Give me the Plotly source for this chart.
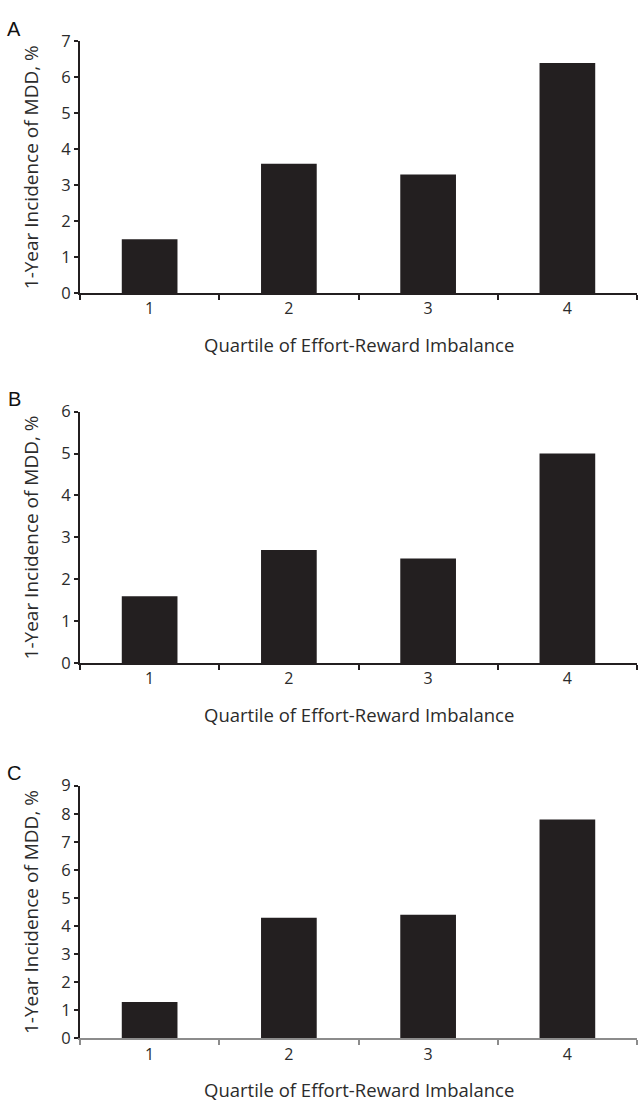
import plotly.graph_objects as go

quartiles = ["1", "2", "3", "4"]
panel_labels = ["A", "B", "C"]
incidence_a = [1.5, 3.6, 3.3, 6.4]
incidence_b = [1.6, 2.7, 2.5, 5.0]
incidence_c = [1.3, 4.3, 4.4, 7.8]
y_max = [7, 6, 9]
y_title = "1-Year Incidence of MDD, %"
x_title = "Quartile of Effort-Reward Imbalance"

W, H = 639, 1116
FONT = "Open Sans"
DARK = "#231f20"
TXT = "#2b2b2b"

# pixel geometry per panel: (top, bottom) of plot area
panels_px = [(30, 287), (408, 665), (790, 1048)]
x_left, x_right = 80, 637
xaxis_colors = [DARK, DARK, "#8c8c8c"]

fig = go.Figure()
series = [incidence_a, incidence_b, incidence_c]

for i, vals in enumerate(series):
    n = i + 1
    xa = "x" if n == 1 else f"x{n}"
    ya = "y" if n == 1 else f"y{n}"
    fig.add_trace(go.Bar(x=quartiles, y=vals, xaxis=xa, yaxis=ya,
                         marker=dict(color=DARK, line=dict(width=0)),
                         width=0.4, showlegend=False))
    top, bot = panels_px[i]
    dom_y = [1 - bot / H, 1 - top / H]
    dom_x = [x_left / W, x_right / W]
    xkey = "xaxis" if n == 1 else f"xaxis{n}"
    ykey = "yaxis" if n == 1 else f"yaxis{n}"
    fig.update_layout(**{
        xkey: dict(domain=dom_x, anchor=ya, type="category",
                   tickson="boundaries", ticks="outside", ticklen=5,
                   tickwidth=1.5, tickcolor=xaxis_colors[i],
                   showline=True, linecolor=xaxis_colors[i], linewidth=2,
                   showgrid=False, zeroline=False,
                   tickfont=dict(family=FONT, size=16, color=TXT),
                   range=[-0.5, 3.5]),
        ykey: dict(domain=dom_y, anchor=xa, range=[0, y_max[i]],
                   dtick=1, ticks="outside", ticklen=4, tickwidth=1.5,
                   tickcolor=DARK, showline=True, linecolor=DARK,
                   linewidth=2, showgrid=False, zeroline=False,
                   tickfont=dict(family=FONT, size=16.5, color=TXT)),
    })
    # axis titles and panel labels as annotations
    fig.add_annotation(x=31 / W, y=1 - (top + bot) / 2 / H, xref="paper",
                       yref="paper", text=y_title, textangle=-90,
                       showarrow=False, xanchor="center", yanchor="middle",
                       font=dict(family=FONT, size=19, color=TXT))
    fig.add_annotation(x=(x_left + x_right) / 2 / W, y=1 - (bot + 52) / H,
                       xref="paper", yref="paper", text=x_title,
                       showarrow=False, xanchor="center", yanchor="middle",
                       font=dict(family=FONT, size=18.5, color=TXT))
    fig.add_annotation(x=14 / W, y=1 - (top - 13) / H, xref="paper",
                       yref="paper", text=panel_labels[i], showarrow=False,
                       xanchor="center", yanchor="middle",
                       font=dict(family="Liberation Sans", size=20, color="#111"))

fig.update_layout(width=W, height=H, margin=dict(l=0, r=0, t=0, b=0),
                  paper_bgcolor="white", plot_bgcolor="white", bargap=0.6)

fig.write_html("out.html", config={"displayModeBar": False},
               post_script="document.body.style.margin='0';document.body.style.overflow='hidden';")
